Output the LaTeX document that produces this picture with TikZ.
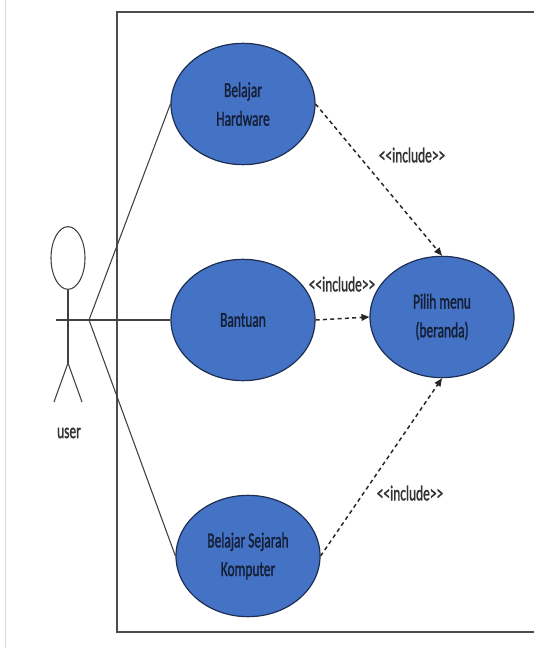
\documentclass[tikz,border=0pt]{standalone}
\usepackage{fontspec}
\setmainfont{Carlito}
\newfontfamily\labelfont{Carlito}[FakeBold=1.6]
\usetikzlibrary{shapes.geometric,arrows.meta}
\definecolor{ucfill}{HTML}{4472C4}
\definecolor{ucline}{HTML}{1E2F52}
\definecolor{uctext}{HTML}{141F36}
% condensed text, as in the use case labels
\newcommand{\sqz}[1]{\scalebox{0.63}[1]{#1}}
\newcommand{\incltext}{\sqz{<\kern0pt<include>\kern0pt>}}
\begin{document}
\begin{tikzpicture}[x=0.75pt,y=-0.75pt,
  usecase/.style={ellipse, draw=ucline, line width=0.9pt, fill=ucfill,
    minimum width=108pt, minimum height=91pt, inner sep=0pt,
    text=uctext, align=center, font=\labelfont\fontsize{16}{21.5}\selectfont},
  assoc/.style={draw=black!75, line width=0.8pt},
  incl/.style={draw=black!85, line width=1.1pt, dash pattern=on 3pt off 2.5pt,
    -{Triangle[length=6pt,width=5pt]}},
  stereo/.style={font=\labelfont\fontsize{16}{18}\selectfont, text=black!80, inner sep=0pt},
  actorlbl/.style={font=\labelfont\fontsize{16}{18}\selectfont, text=black!80, inner sep=0pt}]
\clip (0,0) rectangle (534,648);
\fill[white] (0,0) rectangle (534,648);
\draw[gray!30, line width=0.6pt] (5,0) -- (5,648);
% system boundary
\draw[black!70, line width=1.1pt] (540,12) -- (117,12) -- (117,632) -- (540,632);

% use cases
\node[usecase] (hw) at (243,104) {\sqz{Belajar}\\\sqz{Hardware}};
\node[usecase] (bt) at (243,320) {\sqz{Bantuan}};
\node[usecase] (pm) at (442,317) {\sqz{Pilih menu}\\\sqz{(beranda)}};
\node[usecase] (sk) at (248,556) {\sqz{Belajar Sejarah}\\\sqz{Komputer}};

% actor
\node[ellipse, draw=black!75, line width=0.8pt, minimum width=25.5pt,
  minimum height=47pt, inner sep=0pt] (head) at (68,258) {};
\coordinate (hip) at (68,363);
\coordinate (lfoot) at (54,402);
\coordinate (rfoot) at (82,402);
\coordinate (lhand) at (56,320);
\coordinate (hub) at (89,320);
\draw[assoc] (head.south) -- (hip);
\draw[assoc] (lfoot) -- (hip) -- (rfoot);
\node[actorlbl] (user) at (69,433) {\sqz{user}};

% associations
\draw[assoc] (lhand) -- (bt.west);
\draw[assoc] (hub) -- (hw.west);
\draw[assoc] (hub) -- (sk.west);

% include relations
\draw[incl] (hw.east) -- (pm.north);
\draw[incl] (bt.east) -- (pm.west);
\draw[incl] (sk.east) -- (pm.south);
\node[stereo] (l1) at (412,155) {\incltext};
\node[stereo] (l2) at (342,284) {\incltext};
\node[stereo] (l3) at (410,493) {\incltext};
\end{tikzpicture}
\end{document}
